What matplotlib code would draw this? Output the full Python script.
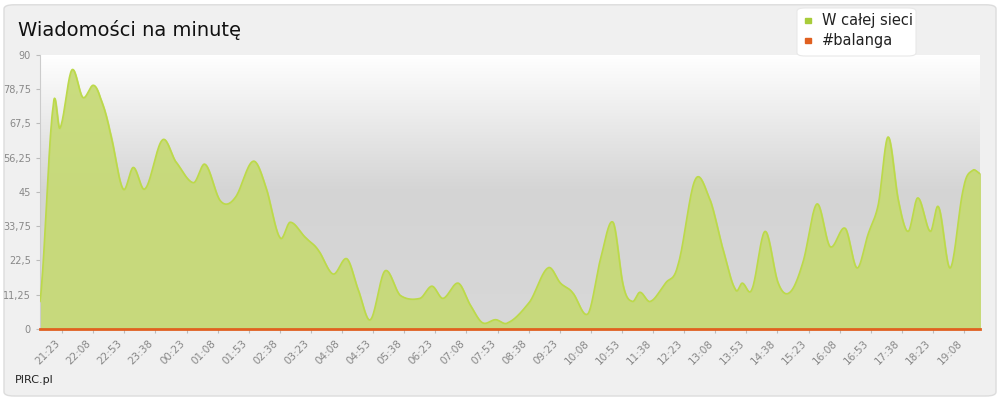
import numpy as np
import matplotlib
matplotlib.use("Agg")
import matplotlib.pyplot as plt
from matplotlib.patches import FancyBboxPatch
from matplotlib.colors import LinearSegmentedColormap

# minutes relative to 21:23
minutes = [-32,-13,-3,14,30,45,55,69,88,103,120,145,164,190,207,229,250,276,294,315,330,352,370,392,412,428,446,467,489,518,535,551,573,590,608,627,645,677,703,721,738,761,779,797,812,825,836,851,873,891,916,938,955,974,984,998,1017,1036,1053,1072,1092,1111,1133,1150,1166,1181,1195,1210,1224,1238,1256,1268,1285,1304,1317,1328]
network = [9,73,66,85,76,80,76,65,46,53,46,62,55,48,54,42,43,55,47,30,35,30,26,18,23,13,3,19,11,10,14,10,15,8,2,3,2,9,20,15,12,5,23,35,14,9,12,9,15,21,49,42,27,13,15,13,32,15,12,22,41,27,33,20,31,41,63,42,32,43,32,40,20,46,52,51]
balanga = [0]*len(minutes)
tick_labels = ["21:23","22:08","22:53","23:38","00:23","01:08","01:53","02:38","03:23","04:08","04:53","05:38","06:23","07:08","07:53","08:38","09:23","10:08","10:53","11:38","12:23","13:08","13:53","14:38","15:23","16:08","16:53","17:38","18:23","19:08"]
yticks = [0,11.25,22.5,33.75,45,56.25,67.5,78.75,90]

def smooth(x, y, n=20):
    x = np.asarray(x, float); y = np.asarray(y, float)
    yp = np.concatenate([[y[0]], y, [y[-1]]])
    X, Y = [], []
    for i in range(1, len(x)):
        p0, p1, p2, p3 = yp[i-1], yp[i], yp[i+1], yp[i+2]
        t = np.linspace(0, 1, n, endpoint=False)
        Y.append(0.5*((2*p1)+(-p0+p2)*t+(2*p0-5*p1+4*p2-p3)*t**2+(-p0+3*p1-3*p2+p3)*t**3))
        X.append(x[i-1] + (x[i]-x[i-1])*t)
    X.append([x[-1]]); Y.append([y[-1]])
    return np.concatenate(X), np.clip(np.concatenate(Y), 0, None)

fig = plt.figure(figsize=(10, 4), dpi=100)
fig.patch.set_facecolor("white")
bg = FancyBboxPatch((0.004, 0.01), 0.992, 0.978, boxstyle="round,pad=0,rounding_size=0.01",
                    transform=fig.transFigure, facecolor="#f0f0f0", edgecolor="#dcdcdc", lw=1, zorder=-10)
fig.patches.append(bg)
ax = fig.add_axes([0.04, 0.178, 0.94, 0.685])
xmin, xmax = -32, 1328
grad = np.linspace(0, 1, 256).reshape(-1, 1)
cm = LinearSegmentedColormap.from_list("g", ["#ffffff", "#d4d4d4", "#d8d8d8"])
ax.imshow(grad, cmap=cm, extent=[xmin, xmax, 0, 90], origin="upper", aspect="auto", zorder=0)
ax.set_xlim(xmin, xmax); ax.set_ylim(0, 90)

sx, sy = smooth(minutes, network)
ax.fill_between(sx, 0, sy, color="#c6da74", alpha=0.92, zorder=2)
ax.plot(sx, sy, color="#bcd94a", lw=1.2, zorder=3)
ax.plot(minutes, balanga, color="#e06020", lw=2, zorder=4, clip_on=False)

ax.set_xticks([i*45 for i in range(len(tick_labels))])
ax.set_xticklabels(tick_labels, rotation=45, ha="right", fontsize=7.5, color="#888888")
ax.set_yticks(yticks)
ax.set_yticklabels([("%g" % v).replace(".", ",") for v in yticks], fontsize=7, color="#888888")
ax.tick_params(length=3, color="#bbbbbb")
for s in ["top", "right"]:
    ax.spines[s].set_visible(False)
ax.spines["left"].set_color("#cccccc"); ax.spines["bottom"].set_color("#cccccc")

fig.text(0.018, 0.925, "Wiadomości na minutę", fontsize=14, color="#111111", va="center")
fig.text(0.015, 0.05, "PIRC.pl", fontsize=8, color="#222222", va="center")

fig.patches.append(FancyBboxPatch((0.797, 0.86), 0.119, 0.12, boxstyle="round,pad=0,rounding_size=0.008",
                                  transform=fig.transFigure, facecolor="white", edgecolor="#e8e8e8", lw=0.8))
fig.patches.append(plt.Rectangle((0.805, 0.942), 0.006, 0.014, transform=fig.transFigure, color="#a8cc3a"))
fig.patches.append(plt.Rectangle((0.805, 0.892), 0.006, 0.014, transform=fig.transFigure, color="#e06020"))
fig.text(0.822, 0.950, "W całej sieci", fontsize=10.5, va="center", color="#222222")
fig.text(0.822, 0.900, "#balanga", fontsize=10.5, va="center", color="#222222")

fig.savefig("out.png", dpi=100, facecolor=fig.get_facecolor())
